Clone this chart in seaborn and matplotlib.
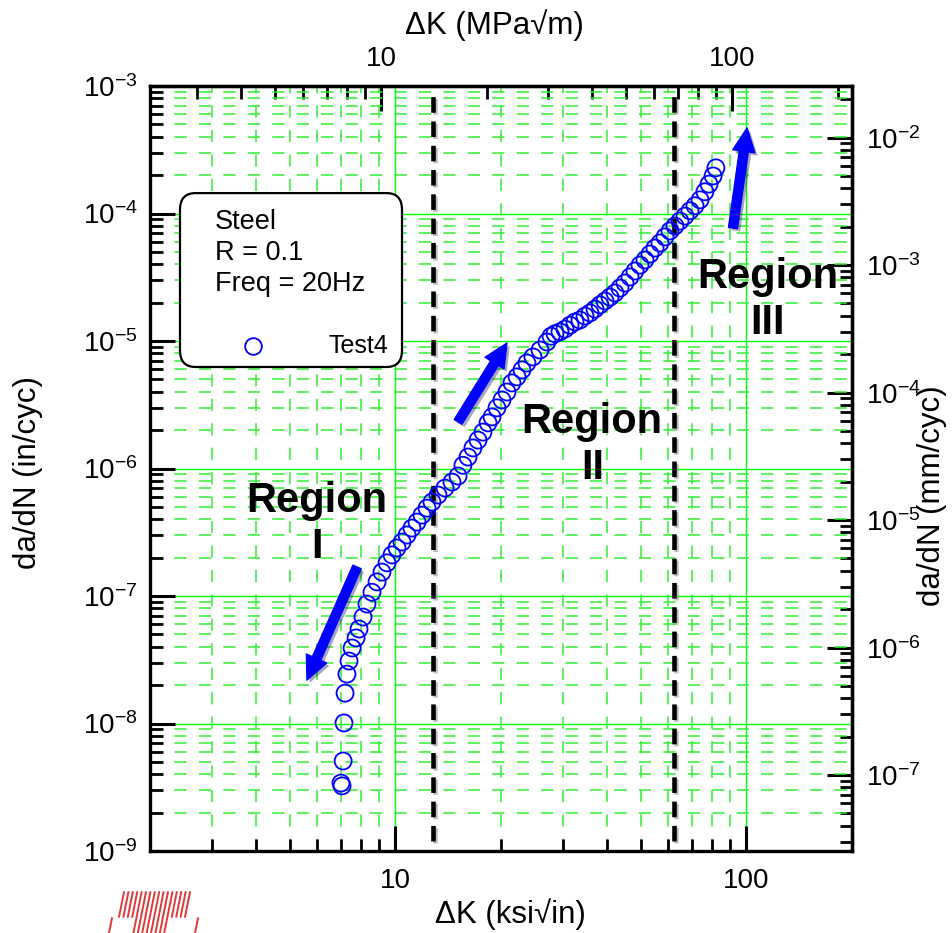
import numpy as np
import pandas as pd
import matplotlib
matplotlib.use("Agg")
import matplotlib.pyplot as plt
import seaborn as sns
from matplotlib.ticker import FuncFormatter, NullFormatter, LogLocator
from matplotlib.patches import FancyBboxPatch
from matplotlib.lines import Line2D
import matplotlib.patheffects as pe

# ---------------- data ----------------
delta_k = [7.05, 7.00, 7.10, 7.14, 7.19, 7.28, 7.38, 7.53, 7.73, 7.88,
           8.09, 8.30, 8.58, 8.87, 9.16, 9.47, 9.78, 10.11, 10.45, 10.80,
           11.15, 11.53, 11.91, 12.31, 12.72, 13.23, 13.85, 14.50, 15.09, 15.58,
           16.11, 16.64, 17.20, 17.77, 18.37, 18.86, 19.48, 20.13, 20.80, 21.49,
           22.22, 22.95, 23.71, 24.67, 25.83, 27.04, 27.77, 28.50, 29.45, 30.43,
           31.45, 32.49, 33.57, 34.70, 35.86, 37.05, 38.28, 39.57, 40.88, 42.25,
           43.65, 45.11, 46.62, 48.17, 49.77, 51.43, 53.15, 54.92, 56.75, 58.64,
           60.60, 62.60, 64.70, 66.88, 69.10, 71.40, 73.80, 76.20, 78.30, 80.40,
           81.90]
dadn = [3.24e-9, 3.41e-9, 5.08e-9, 1.01e-8, 1.73e-8, 2.44e-8, 3.09e-8, 3.91e-8, 4.69e-8, 5.51e-8,
        6.84e-8, 8.65e-8, 1.07e-7, 1.29e-7, 1.54e-7, 1.82e-7, 2.10e-7, 2.38e-7, 2.65e-7, 3.01e-7,
        3.41e-7, 3.80e-7, 4.31e-7, 4.89e-7, 5.46e-7, 6.19e-7, 7.03e-7, 7.83e-7, 8.73e-7, 1.06e-6,
        1.23e-6, 1.45e-6, 1.67e-6, 1.93e-6, 2.28e-6, 2.54e-6, 2.99e-6, 3.45e-6, 3.98e-6, 4.69e-6,
        5.23e-6, 5.93e-6, 6.72e-6, 7.50e-6, 8.50e-6, 9.82e-6, 1.09e-5, 1.14e-5, 1.18e-5, 1.24e-5,
        1.33e-5, 1.41e-5, 1.46e-5, 1.57e-5, 1.66e-5, 1.78e-5, 1.92e-5, 2.06e-5, 2.21e-5, 2.38e-5,
        2.60e-5, 2.85e-5, 3.18e-5, 3.54e-5, 3.94e-5, 4.32e-5, 4.81e-5, 5.36e-5, 5.87e-5, 6.55e-5,
        7.30e-5, 7.98e-5, 8.73e-5, 9.55e-5, 1.05e-4, 1.15e-4, 1.28e-4, 1.48e-4, 1.70e-4, 1.97e-4,
        2.28e-4]

series_name = "Test4"
info_lines = ["Steel", "R = 0.1", "Freq = 20Hz"]

region_bounds = [12.8, 62.2]            # ksi*sqrt(in)
region_line_span = [1.2e-9, 8.8e-4]     # in/cyc
region_labels = ["Region\nI", "Region\nII", "Region\nIII"]

arrow_tails = [(7.78, 1.69e-7), (15.09, 2.32e-6), (91.6, 7.69e-5)]
arrow_heads = [(5.60, 2.19e-8), (20.8, 9.64e-6), (100.5, 4.69e-4)]

x_limits = [2, 200]
y_limits = [1e-9, 1e-3]
KSI_TO_MPA = 1.0988
IN_TO_MM = 25.4

# ---------------- styling ----------------
sns.set_style("ticks")
plt.rcParams["font.family"] = ["Liberation Sans", "DejaVu Sans"]
plt.rcParams["mathtext.default"] = "regular"
plt.rcParams["text.color"] = "black"
plt.rcParams["axes.labelcolor"] = "black"
plt.rcParams["xtick.color"] = "black"
plt.rcParams["ytick.color"] = "black"

TICK_FS = 20
LABEL_FS = 22.5

W, H = 952, 933
fig = plt.figure(figsize=(W / 100, H / 100), dpi=100)
L, R, T, B = 150, 852, 86, 851
ax = fig.add_axes([L / W, 1 - B / H, (R - L) / W, (B - T) / H])
ax.set_xscale("log")
ax.set_yscale("log")
ax.set_xlim(*x_limits)
ax.set_ylim(*y_limits)
ax.set_axisbelow(True)

ax.xaxis.set_minor_locator(LogLocator(base=10, subs=np.arange(2, 10), numticks=50))
ax.yaxis.set_minor_locator(LogLocator(base=10, subs=np.arange(2, 10), numticks=50))
ax.grid(which="major", color="#00ff00", lw=1.0, ls="-")
ax.grid(which="minor", color="#33ee33", lw=1.1, ls=(0, (8, 8)))

df = pd.DataFrame({"dK": delta_k, "dadN": dadn})
sns.scatterplot(data=df, x="dK", y="dadN", ax=ax, marker="o", s=150,
                facecolor="none", edgecolor="#0000ff", linewidth=1.3,
                zorder=4, legend=False)

for b in region_bounds:
    ax.plot([b, b], region_line_span, color="black", lw=3.3,
            dashes=(3.4, 1.9), zorder=3,
            path_effects=[pe.SimpleLineShadow(offset=(1.5, -1.5), shadow_color="gray", alpha=0.5),
                          pe.Normal()])

for (tx, ty), (hx, hy) in zip(arrow_tails, arrow_heads):
    ax.annotate("", xy=(hx, hy), xytext=(tx, ty),
                arrowprops=dict(width=6.5, headwidth=16, headlength=17, shrink=0,
                                color="#0000ff",
                                path_effects=[pe.withSimplePatchShadow(offset=(2, -2), alpha=0.35)]),
                zorder=5)

region_pos = [(0.238, 0.427), (0.630, 0.531), (0.880, 0.720)]
for (px, py), lab in zip(region_pos, region_labels):
    ax.text(px, py, lab, transform=ax.transAxes, ha="center", va="center",
            fontsize=30, fontweight="bold", linespacing=1.2, zorder=6, clip_on=False,
            color="black")

# legend-like info box
box = FancyBboxPatch((0.0427, 0.6327), 0.3163, 0.2273,
                     boxstyle="round,pad=0,rounding_size=0.022",
                     transform=ax.transAxes, fc="white", ec="black", lw=1.6, zorder=7)
ax.add_patch(box)
for i, s in enumerate(info_lines):
    ax.text(0.0926, 0.822 - i * 0.0405, s, transform=ax.transAxes, ha="left",
            va="center", fontsize=19.5, zorder=8, color="black")
ax.plot([0.1467], [0.660], "o", transform=ax.transAxes, mfc="none", mec="#0000ff",
        ms=12, mew=1.3, zorder=8, clip_on=False)
ax.text(0.339, 0.660, series_name, transform=ax.transAxes, ha="right", va="center",
        fontsize=18, zorder=8, color="black")

# ticks
plain = FuncFormatter(lambda v, p: "%g" % v)
sci = FuncFormatter(lambda v, p: r"$\mathregular{10^{%d}}$" % int(round(np.log10(v))))
ax.tick_params(which="major", direction="in", length=18, width=2.2, labelsize=TICK_FS, colors="black")
ax.tick_params(which="minor", direction="in", length=9, width=2.0, colors="black")
ax.tick_params(axis="x", which="both", top=False, pad=12)
ax.tick_params(axis="y", which="both", right=False, pad=9)
ax.xaxis.set_major_formatter(plain)
ax.xaxis.set_minor_formatter(NullFormatter())
ax.yaxis.set_major_formatter(sci)
ax.yaxis.set_minor_formatter(NullFormatter())
for sp in ax.spines.values():
    sp.set_linewidth(2.4)
    sp.set_color("black")

secx = ax.secondary_xaxis("top", functions=(lambda x: x * KSI_TO_MPA, lambda x: x / KSI_TO_MPA))
secx.tick_params(which="major", direction="in", length=18, width=2.2, labelsize=TICK_FS, pad=10,
                 colors="black")
secx.tick_params(which="minor", direction="in", length=9, width=2.0, colors="black")
secx.xaxis.set_major_formatter(plain)
secx.xaxis.set_minor_formatter(NullFormatter())
secx.spines["top"].set_linewidth(2.4)

secy = ax.secondary_yaxis("right", functions=(lambda y: y * IN_TO_MM, lambda y: y / IN_TO_MM))
secy.tick_params(which="major", direction="in", length=18, width=2.2, labelsize=TICK_FS, pad=10,
                 colors="black")
secy.tick_params(which="minor", direction="in", length=9, width=2.0, colors="black")
secy.yaxis.set_major_formatter(sci)
secy.yaxis.set_minor_formatter(NullFormatter())
secy.spines["right"].set_linewidth(2.4)

# axis labels
ax.set_xlabel("ΔK (ksi√in)", fontsize=LABEL_FS, color="black")
ax.xaxis.set_label_coords(0.513, -0.0615)
ax.set_ylabel("da/dN (in/cyc)", fontsize=LABEL_FS, color="black")
ax.yaxis.set_label_coords(-0.152, 0.4954)
secx.set_xlabel("ΔK (MPa√m)", fontsize=LABEL_FS, color="black")
secx.xaxis.set_label_coords(0.49, 1.068, transform=ax.transAxes)
secy.set_ylabel("da/dN (mm/cyc)", fontsize=LABEL_FS, color="black")
secy.yaxis.set_label_coords(1.093, 0.465, transform=ax.transAxes)

# small red hatched logo (decoration, bottom-left)
def fpx(x, y):
    return x / W, 1 - y / H

red = "#e03a3a"
tops = np.linspace(124, 190, 16)
for xt in tops:
    yb = 933 if 138 <= xt <= 176 else 917
    dx = -(yb - 892) * 0.2
    (x0, y0), (x1, y1) = fpx(xt, 892), fpx(xt + dx, yb)
    fig.add_artist(Line2D([x0, x1], [y0, y1], color=red, lw=1.4))
for xa in (112, 198):
    (x0, y0), (x1, y1) = fpx(xa, 918), fpx(xa - 3, 933)
    fig.add_artist(Line2D([x0, x1], [y0, y1], color=red, lw=1.4))

fig.savefig("out.png", dpi=100)
